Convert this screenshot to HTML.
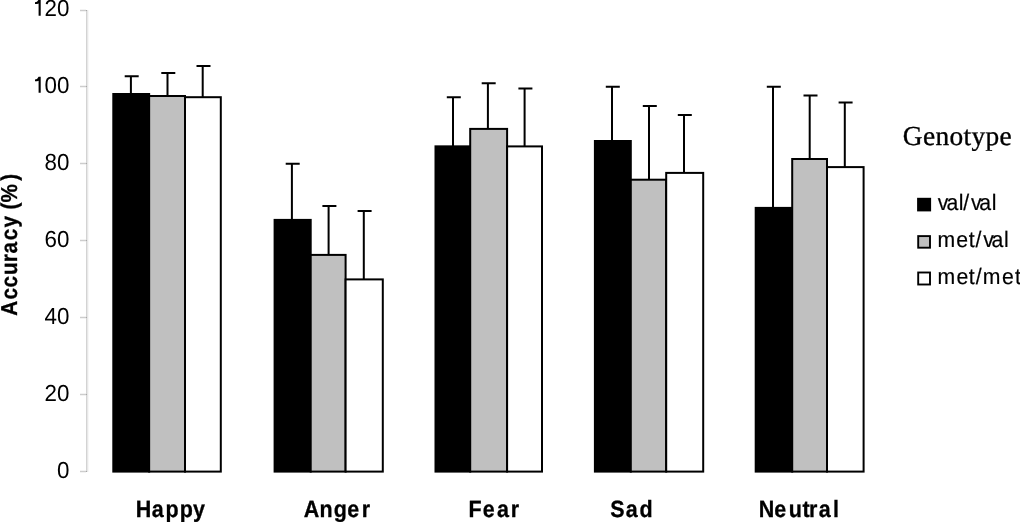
<!DOCTYPE html>
<html><head><meta charset="utf-8"><style>
html,body{margin:0;padding:0;background:#fff;}
body{width:1020px;height:522px;overflow:hidden;}
svg{display:block;will-change:transform;text-rendering:geometricPrecision;}
.ax text{font-family:"Liberation Sans",sans-serif;font-size:23.3px;fill:#000;}
.cat text{font-family:"Liberation Sans",sans-serif;font-size:23.5px;font-weight:bold;fill:#000;stroke:#000;stroke-width:0.3px;}
.leg text{font-family:"Liberation Sans",sans-serif;font-size:22.3px;fill:#000;stroke:#000;stroke-width:0.2px;}
.yt{font-family:"Liberation Sans",sans-serif;font-size:23.0px;font-weight:bold;stroke:#000;stroke-width:0.3px;}
.gt{font-family:"Liberation Serif",serif;font-size:27.4px;stroke:#000;stroke-width:0.35px;}
</style></head><body>
<svg width="1020" height="522" viewBox="0 0 1020 522">
<g shape-rendering="crispEdges">
<rect x="86" y="10" width="1" height="462" fill="#d3d3d3"/>
<rect x="87" y="10" width="1" height="462" fill="#e8e8e8"/>
<rect x="88" y="10" width="1" height="462" fill="#f7f7f7"/>
<rect x="80" y="470" width="6" height="1" fill="#f3f3f3"/><rect x="80" y="472" width="6" height="1" fill="#f3f3f3"/><rect x="80" y="471" width="6" height="1" fill="#cdcdcd"/><rect x="86" y="471" width="1" height="1" fill="#a8a8a8"/><rect x="80" y="393" width="6" height="1" fill="#f3f3f3"/><rect x="80" y="395" width="6" height="1" fill="#f3f3f3"/><rect x="80" y="394" width="6" height="1" fill="#cdcdcd"/><rect x="86" y="394" width="1" height="1" fill="#a8a8a8"/><rect x="80" y="316" width="6" height="1" fill="#f3f3f3"/><rect x="80" y="318" width="6" height="1" fill="#f3f3f3"/><rect x="80" y="317" width="6" height="1" fill="#cdcdcd"/><rect x="86" y="317" width="1" height="1" fill="#a8a8a8"/><rect x="80" y="239" width="6" height="1" fill="#f3f3f3"/><rect x="80" y="241" width="6" height="1" fill="#f3f3f3"/><rect x="80" y="240" width="6" height="1" fill="#cdcdcd"/><rect x="86" y="240" width="1" height="1" fill="#a8a8a8"/><rect x="80" y="162" width="6" height="1" fill="#f3f3f3"/><rect x="80" y="164" width="6" height="1" fill="#f3f3f3"/><rect x="80" y="163" width="6" height="1" fill="#cdcdcd"/><rect x="86" y="163" width="1" height="1" fill="#a8a8a8"/><rect x="80" y="85" width="6" height="1" fill="#f3f3f3"/><rect x="80" y="87" width="6" height="1" fill="#f3f3f3"/><rect x="80" y="86" width="6" height="1" fill="#cdcdcd"/><rect x="86" y="86" width="1" height="1" fill="#a8a8a8"/><rect x="80" y="9" width="6" height="1" fill="#f3f3f3"/><rect x="80" y="11" width="6" height="1" fill="#f3f3f3"/><rect x="80" y="10" width="6" height="1" fill="#cdcdcd"/><rect x="86" y="10" width="1" height="1" fill="#a8a8a8"/>
</g>
<g class="ax"><g transform="translate(69.35 478.10) scale(0.96 1)"><text x="0" y="0" text-anchor="end">0</text></g><g transform="translate(69.35 401.10) scale(0.96 1)"><text x="0" y="0" text-anchor="end">20</text></g><g transform="translate(69.35 324.10) scale(0.96 1)"><text x="0" y="0" text-anchor="end">40</text></g><g transform="translate(69.35 247.10) scale(0.96 1)"><text x="0" y="0" text-anchor="end">60</text></g><g transform="translate(69.35 170.10) scale(0.96 1)"><text x="0" y="0" text-anchor="end">80</text></g><g transform="translate(69.35 93.10) scale(0.96 1)"><text x="0" y="0" text-anchor="end">00</text></g><path d="M38.6 76.65H40.7V92.85H38.6V80.65Q37.5 81.25 35 81.25V79.55Q37.6 79.25 38.6 76.65Z" fill="#000"/><g transform="translate(69.35 15.90) scale(0.96 1)"><text x="0" y="0" text-anchor="end">20</text></g><path d="M38.6 -0.55H40.7V15.65H38.6V3.45Q37.5 4.05 35 4.05V2.35Q37.6 2.05 38.6 -0.55Z" fill="#000"/></g>
<rect x="113.30" y="94.00" width="35.85" height="377.60" fill="#000" stroke="#000" stroke-width="2"/>
<path d="M130.90 94.00V76.20M124.70 76.20H138.70" stroke="#000" stroke-width="2" fill="none"/>
<rect x="149.15" y="96.00" width="35.85" height="375.60" fill="#c0c0c0" stroke="#000" stroke-width="2"/>
<path d="M167.50 96.00V72.90M161.30 72.90H175.30" stroke="#000" stroke-width="2" fill="none"/>
<rect x="185.00" y="97.20" width="35.80" height="374.40" fill="#fff" stroke="#000" stroke-width="2"/>
<path d="M202.70 97.20V66.00M196.50 66.00H210.50" stroke="#000" stroke-width="2" fill="none"/>
<rect x="274.60" y="219.90" width="36.10" height="251.70" fill="#000" stroke="#000" stroke-width="2"/>
<path d="M291.90 219.90V163.80M285.70 163.80H299.70" stroke="#000" stroke-width="2" fill="none"/>
<rect x="310.70" y="254.90" width="34.90" height="216.70" fill="#c0c0c0" stroke="#000" stroke-width="2"/>
<path d="M328.60 254.90V205.90M322.40 205.90H336.40" stroke="#000" stroke-width="2" fill="none"/>
<rect x="345.60" y="279.40" width="37.20" height="192.20" fill="#fff" stroke="#000" stroke-width="2"/>
<path d="M363.80 279.40V211.00M357.60 211.00H371.60" stroke="#000" stroke-width="2" fill="none"/>
<rect x="435.50" y="146.35" width="34.70" height="325.25" fill="#000" stroke="#000" stroke-width="2"/>
<path d="M453.00 146.35V97.20M446.80 97.20H460.80" stroke="#000" stroke-width="2" fill="none"/>
<rect x="470.20" y="128.90" width="36.90" height="342.70" fill="#c0c0c0" stroke="#000" stroke-width="2"/>
<path d="M487.90 128.90V83.20M481.70 83.20H495.70" stroke="#000" stroke-width="2" fill="none"/>
<rect x="507.10" y="146.40" width="34.90" height="325.20" fill="#fff" stroke="#000" stroke-width="2"/>
<path d="M524.60 146.40V88.50M518.40 88.50H532.40" stroke="#000" stroke-width="2" fill="none"/>
<rect x="594.90" y="141.00" width="35.90" height="330.60" fill="#000" stroke="#000" stroke-width="2"/>
<path d="M612.00 141.00V86.80M605.80 86.80H619.80" stroke="#000" stroke-width="2" fill="none"/>
<rect x="630.80" y="179.70" width="35.40" height="291.90" fill="#c0c0c0" stroke="#000" stroke-width="2"/>
<path d="M649.00 179.70V106.10M642.80 106.10H656.80" stroke="#000" stroke-width="2" fill="none"/>
<rect x="666.20" y="172.90" width="37.00" height="298.70" fill="#fff" stroke="#000" stroke-width="2"/>
<path d="M684.00 172.90V114.90M677.80 114.90H691.80" stroke="#000" stroke-width="2" fill="none"/>
<rect x="755.70" y="207.90" width="36.50" height="263.70" fill="#000" stroke="#000" stroke-width="2"/>
<path d="M773.00 207.90V86.80M766.80 86.80H780.80" stroke="#000" stroke-width="2" fill="none"/>
<rect x="792.20" y="159.00" width="34.80" height="312.60" fill="#c0c0c0" stroke="#000" stroke-width="2"/>
<path d="M809.70 159.00V95.60M803.50 95.60H817.50" stroke="#000" stroke-width="2" fill="none"/>
<rect x="827.00" y="167.10" width="36.60" height="304.50" fill="#fff" stroke="#000" stroke-width="2"/>
<path d="M844.80 167.10V102.60M838.60 102.60H852.60" stroke="#000" stroke-width="2" fill="none"/>
<g class="cat"><g transform="translate(0 516.7) scale(0.914 1)"><text x="148.54 165.94 181.16 196.81 211.09" y="0">Happy</text></g>
<g transform="translate(0 516.7) scale(0.914 1)"><text x="332.46 349.65 365.12 380.04 395.83" y="0">Anger</text></g>
<g transform="translate(0 516.7) scale(0.914 1)"><text x="512.65 528.08 543.73 558.74" y="0">Fear</text></g>
<g transform="translate(0 516.7) scale(0.914 1)"><text x="667.70 684.54 699.58" y="0">Sad</text></g>
<g transform="translate(0 516.7) scale(0.914 1)"><text x="830.05 847.00 862.88 878.05 885.21 895.81 911.27" y="0">Neutral</text></g></g>
<g transform="translate(17.1 320.0) rotate(-90) scale(0.9 1)"><text class="yt" x="4.65 22.66 35.99 50.02 64.04 73.88 88.55 102.71 115.50 122.85 130.65 154.64" y="0">Accuracy (%)</text></g>
<g class="gt"><g transform="translate(902.80 145.1) scale(1.0 1)"><text x="0" y="0" textLength="108.90" lengthAdjust="spacing">Genotype</text></g></g>
<g class="leg">
<rect x="917.1" y="197.8" width="14" height="13.6" fill="#000"/>
<rect x="918.2" y="236.1" width="11.8" height="11.6" fill="#c0c0c0" stroke="#000" stroke-width="1.9"/>
<rect x="918.2" y="272.5" width="11.8" height="12.0" fill="#fff" stroke="#000" stroke-width="1.9"/>
<g transform="translate(0 210.45) scale(0.951 1)"><text x="986.04 995.16 1008.07 1012.83 1020.95 1029.76 1042.98" y="0">val/val</text></g>
<g transform="translate(0 247.3) scale(0.951 1)"><text x="985.90 1005.47 1018.70 1025.76 1033.89 1042.69 1055.70" y="0">met/val</text></g>
<g transform="translate(0 284) scale(0.951 1)"><text x="985.69 1005.68 1018.70 1026.08 1033.32 1053.73 1067.28" y="0">met/met</text></g>
</g>
</svg>
</body></html>
